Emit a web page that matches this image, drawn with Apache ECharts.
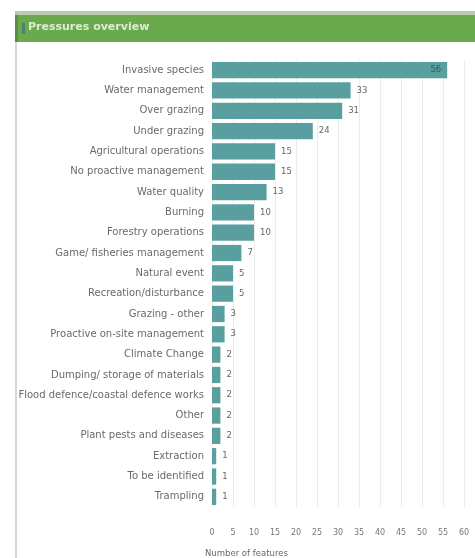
<!DOCTYPE html>
<html><head><meta charset="utf-8">
<script src="https://cdn.jsdelivr.net/npm/echarts@6/dist/echarts.min.js"></script>
<style>html,body{margin:0;padding:0;background:#fff}#c{width:475px;height:558px}</style>
</head><body><div id="c"></div>
<script>
const categories = ["Invasive species","Water management","Over grazing","Under grazing","Agricultural operations","No proactive management","Water quality","Burning","Forestry operations","Game/ fisheries management","Natural event","Recreation/disturbance","Grazing - other","Proactive on-site management","Climate Change","Dumping/ storage of materials","Flood defence/coastal defence works","Other","Plant pests and diseases","Extraction","To be identified","Trampling"];
const values = [56,33,31,24,15,15,13,10,10,7,5,5,3,3,2,2,2,2,2,1,1,1];
const xTicks = [0,5,10,15,20,25,30,35,40,45,50,55,60];
const titleText = "Pressures overview";
const axisName = "Number of features";

const chart = echarts.init(document.getElementById('c'));
const font = 'DejaVu Sans';
const data = values.map((v,i)=> i===0 ? {value:v,label:{position:'insideRight',color:'#2f5f60'}} : v);
chart.setOption({
  animation:false,
  textStyle:{fontFamily:font},
  graphic:[
    {type:'rect',shape:{x:15,y:11,width:460,height:4},style:{fill:'#bccbb0'}},
    {type:'rect',shape:{x:15,y:15,width:460,height:27},style:{fill:'#6aaa4c'}},
    {type:'rect',shape:{x:15,y:15,width:3,height:27},style:{fill:'#5a8f48'}},
    {type:'rect',shape:{x:22,y:23,width:3,height:11},style:{fill:'#4f7f73'}},
    {type:'rect',shape:{x:15,y:42,width:2,height:516},style:{fill:'#d4dad0'}},
    {type:'text',left:28,top:22,style:{text:titleText,fill:'#dcecd4',font:'bold 11px "DejaVu Sans"'}}
  ],
  grid:{left:212,right:11,top:60,bottom:51,containLabel:false},
  xAxis:{type:'value',min:xTicks[0],max:xTicks[xTicks.length-1],interval:5,
    axisLine:{show:false},axisTick:{show:false},
    axisLabel:{color:'#777',fontSize:8,margin:22},
    splitLine:{lineStyle:{color:'#ececec'}},
    name:axisName,nameLocation:'start',nameGap:0,
    nameTextStyle:{fontSize:8.5,color:'#666',align:'left',verticalAlign:'top',padding:[42,0,0,-7]}},
  yAxis:{type:'category',data:categories,inverse:true,
    axisLine:{show:false},axisTick:{show:false},
    axisLabel:{color:'#6a6a6a',fontSize:10,margin:8}},
  series:[{type:'bar',data:data,barCategoryGap:'20%',
    itemStyle:{color:'#5a9fa0'},
    label:{show:true,position:'right',fontSize:8.5,color:'#666',distance:6}}]
});
</script></body></html>
